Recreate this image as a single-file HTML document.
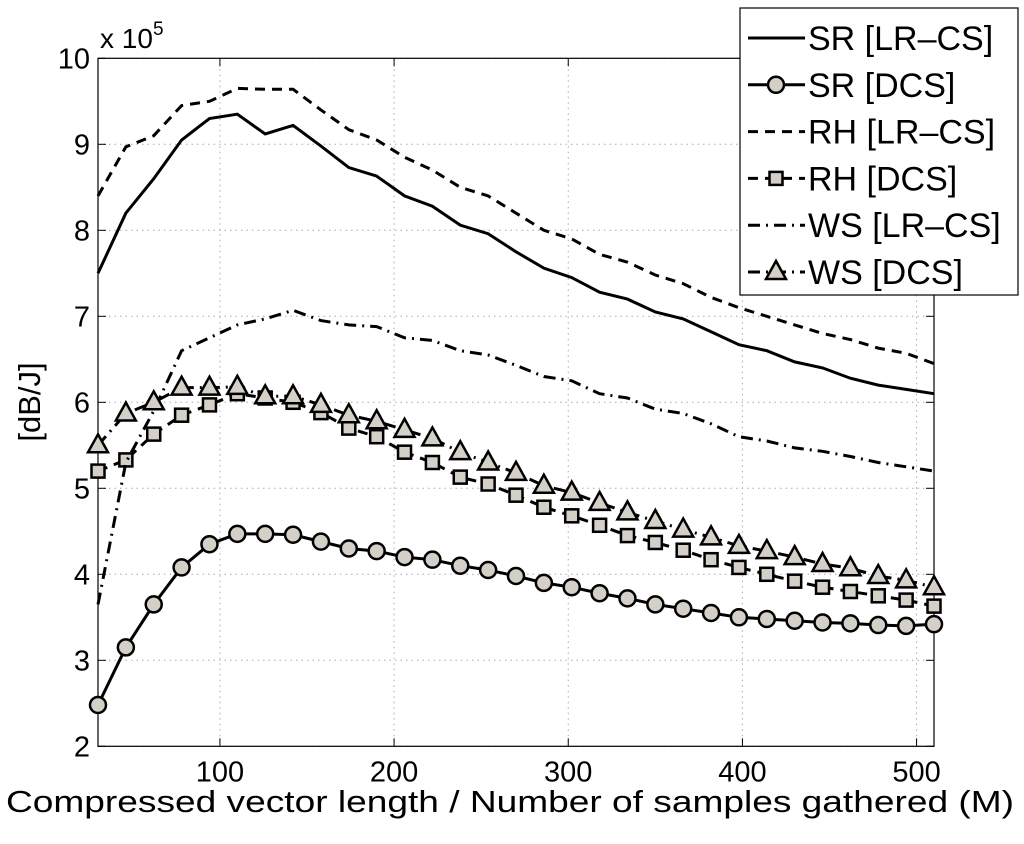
<!DOCTYPE html>
<html><head><meta charset="utf-8"><style>
body{margin:0;background:#fff}
svg text{font-family:"Liberation Sans",sans-serif;fill:#000}
</style></head><body>
<svg id="c" width="1024" height="839"></svg>
<script>
const mVals=[];for(let k=0;k<31;k++)mVals.push(30+16*k);
const srLR=[7.5,8.2,8.6,9.05,9.3,9.35,9.12,9.22,8.98,8.73,8.63,8.4,8.28,8.06,7.96,7.75,7.56,7.45,7.28,7.2,7.05,6.97,6.82,6.67,6.6,6.47,6.4,6.28,6.2,6.15,6.1];
const rhLR=[8.4,8.97,9.1,9.45,9.5,9.65,9.64,9.64,9.4,9.17,9.05,8.85,8.7,8.5,8.4,8.2,8.0,7.9,7.72,7.63,7.48,7.38,7.22,7.1,7.0,6.9,6.8,6.73,6.63,6.57,6.45];
const wsLR=[3.65,5.3,5.9,6.6,6.75,6.9,6.97,7.07,6.95,6.9,6.88,6.75,6.72,6.6,6.55,6.43,6.3,6.25,6.1,6.05,5.92,5.87,5.75,5.6,5.55,5.47,5.43,5.37,5.3,5.25,5.2];
const wsDCS=[5.5,5.87,6.0,6.17,6.17,6.18,6.07,6.07,5.97,5.85,5.78,5.68,5.58,5.42,5.3,5.18,5.03,4.95,4.83,4.72,4.62,4.52,4.43,4.33,4.27,4.2,4.12,4.07,3.98,3.93,3.85];
const rhDCS=[5.2,5.33,5.63,5.85,5.97,6.1,6.05,6.0,5.88,5.7,5.6,5.42,5.3,5.13,5.05,4.92,4.78,4.68,4.57,4.45,4.37,4.28,4.17,4.08,4.0,3.92,3.85,3.8,3.75,3.7,3.63];
const srDCS=[2.48,3.15,3.65,4.08,4.35,4.47,4.47,4.46,4.38,4.3,4.27,4.2,4.17,4.1,4.05,3.98,3.9,3.85,3.78,3.72,3.65,3.6,3.55,3.5,3.48,3.46,3.44,3.43,3.41,3.4,3.42];
const xTicks=[100,200,300,400,500];
const yTicks=[2,3,4,5,6,7,8,9,10];
const L=98,R=934,T=58.3,B=746.3,X0=30,X1=510,Y0=2,Y1=10;
const sx=v=>L+(v-X0)/(X1-X0)*(R-L), sy=v=>B-(v-Y0)/(Y1-Y0)*(B-T);
const svg=document.getElementById('c');const NS='http://www.w3.org/2000/svg';
function mk(t,a,p){const e=document.createElementNS(NS,t);for(const k in a)e.setAttribute(k,a[k]);(p||svg).appendChild(e);return e;}
const grid=mk('g',{});


xTicks.forEach(v=>{mk('line',{x1:sx(v),x2:sx(v),y1:T,y2:B,stroke:'#aaa','stroke-dasharray':'1.5,4'},grid);mk('line',{x1:sx(v),x2:sx(v),y1:B,y2:B-8,stroke:'#000'},grid);mk('line',{x1:sx(v),x2:sx(v),y1:T,y2:T+8,stroke:'#000'},grid);
const t=mk('text',{x:sx(v),y:B+35,'font-size':29,'text-anchor':'middle'});t.textContent=v;

});
yTicks.forEach(v=>{mk('line',{x1:L,x2:R,y1:sy(v),y2:sy(v),stroke:'#aaa','stroke-dasharray':'1.5,4'},grid);mk('line',{x1:L,x2:L+8,y1:sy(v),y2:sy(v),stroke:'#000'},grid);mk('line',{x1:R,x2:R-8,y1:sy(v),y2:sy(v),stroke:'#000'},grid);
const t=mk('text',{x:90,y:sy(v)+10,'font-size':29,'text-anchor':'end'});t.textContent=v;

});
const ax=mk('rect',{x:L,y:T,width:R-L,height:B-T,fill:'none',stroke:'#000','stroke-width':1.2});


const series=[
{d:srLR,n:'sr-lr-cs',dash:'',m:null,label:'SR [LR\u2013CS]'},
{d:srDCS,n:'sr-dcs',dash:'',m:'circle',label:'SR [DCS]'},
{d:rhLR,n:'rh-lr-cs',dash:'10,7',m:null,label:'RH [LR\u2013CS]'},
{d:rhDCS,n:'rh-dcs',dash:'10,7',m:'square',label:'RH [DCS]'},
{d:wsLR,n:'ws-lr-cs',dash:'12,6,2,6',m:null,label:'WS [LR\u2013CS]'},
{d:wsDCS,n:'ws-dcs',dash:'12,6,2,6',m:'tri',label:'WS [DCS]'}];
function marker(type,x,y,g){
 const st={fill:'#d4d0c8',stroke:'#000','stroke-width':2.5};
 if(type==='circle')return mk('circle',Object.assign({cx:x,cy:y,r:8},st),g);
 if(type==='square')return mk('rect',Object.assign({x:x-6.5,y:y-6.5,width:13,height:13},st),g);
 return mk('polygon',Object.assign({points:`${x},${y-11} ${x-10},${y+7} ${x+10},${y+7}`},st),g);}
series.forEach(s=>{
 const g=mk('g',{});
 
 
 const pts=s.d.map((v,i)=>sx(mVals[i])+','+sy(v)).join(' ');
 const pl=mk('polyline',{points:pts,fill:'none',stroke:'#000','stroke-width':3,'stroke-dasharray':s.dash},g);
 
 
 if(s.m)s.d.forEach((v,i)=>{const e=marker(s.m,sx(mVals[i]),sy(v),g);
 
 });
});
const lg=mk('g',{});


mk('rect',{x:740,y:8,width:278,height:287,fill:'#fff',stroke:'#000','stroke-width':1.2},lg);
series.forEach((s,i)=>{const y=38+i*46.8;
 const e=mk('g',{},lg);
 
 
 mk('line',{x1:748,x2:805,y1:y,y2:y,stroke:'#000','stroke-width':3,'stroke-dasharray':s.dash},e);
 if(s.m)marker(s.m,776,y,e);
 const t=mk('text',{x:808,y:y+12,'font-size':34},e);t.textContent=s.label;});
const xl=mk('text',{x:6,y:812,'font-size':31,textLength:1008,lengthAdjust:'spacingAndGlyphs'});xl.textContent='Compressed vector length / Number of samples gathered (M)';


const yl=mk('text',{x:0,y:0,'font-size':31,'text-anchor':'middle',transform:'translate(40,402) rotate(-90)'});yl.textContent='[dB/J]';


const ex=mk('text',{x:100,y:48,'font-size':28});ex.innerHTML='x 10<tspan dy="-13" font-size="19">5</tspan>';


</script>
</body></html>
